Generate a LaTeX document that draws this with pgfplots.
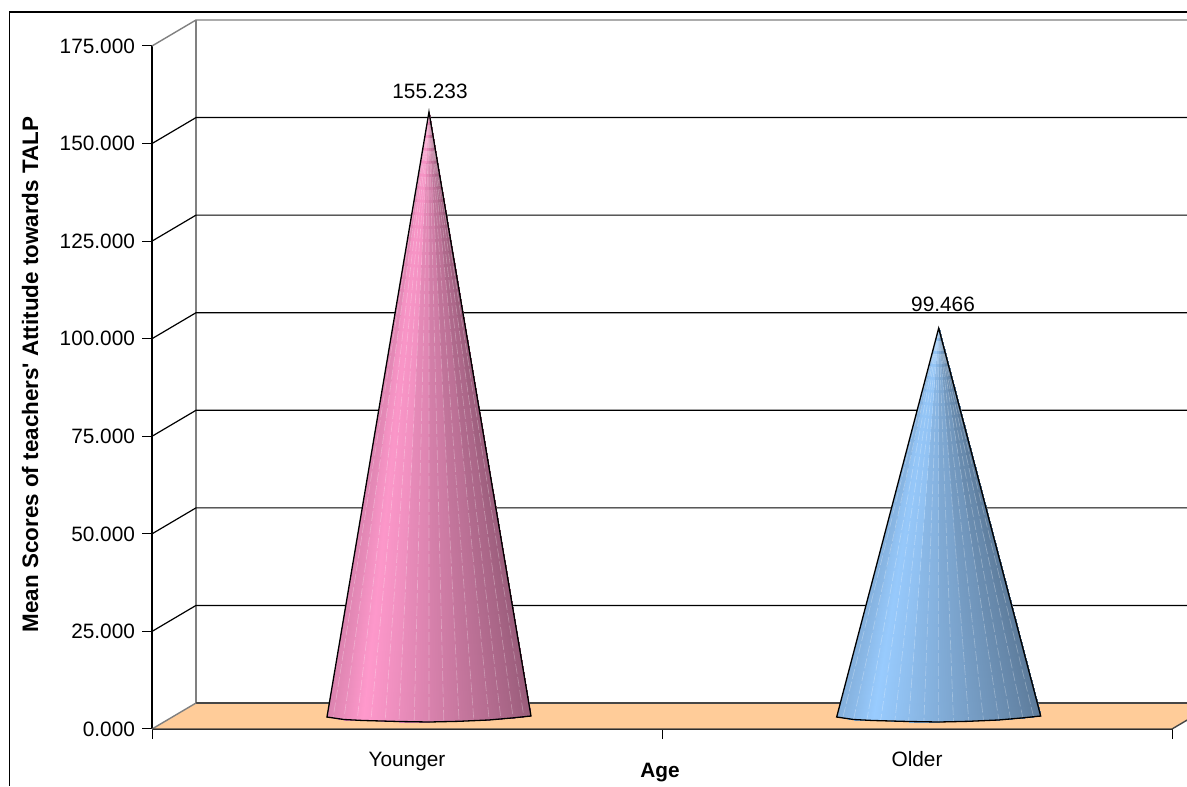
\documentclass[border=0pt]{standalone}
\usepackage{pgfplots}
\usepackage{fontspec}
\setmainfont{Liberation Sans}
\pgfplotsset{compat=1.18}
\definecolor{floorc}{RGB}{255,204,153}
\definecolor{wallc}{RGB}{128,128,128}
\definecolor{edgec}{RGB}{70,70,70}
\pgfplotsset{
  colormap={pinkcone}{rgb255(0)=(153,92,122) rgb255(1)=(255,153,204)},
  colormap={bluecone}{rgb255(0)=(92,122,153) rgb255(1)=(153,204,255)},
  streak/.style={white, line width=0.3pt, opacity=0.3, dash pattern=on 5pt off 1.5pt},
}
\begin{document}
\begin{tikzpicture}[font=\fontsize{10.4pt}{12pt}\selectfont]
% picture is 1187x786 px at 0.5pt per px, axis box starts at px (152,729)
\path[use as bounding box] (-76pt,-28.5pt) rectangle (517.5pt,364.5pt);
\clip (-76pt,-28.5pt) rectangle (517.5pt,364.5pt);
\begin{axis}[
  at={(0pt,0pt)}, anchor=south west,
  scale only axis, width=510pt, height=341.5pt,
  xmin=-0.5, xmax=1.5, ymin=0, ymax=175,
  clip=false,
  axis x line*=bottom, axis y line*=left,
  axis line style={-, black, line width=0.6pt},
  tick align=outside, major tick length=5pt,
  tick style={black, line width=0.5pt},
  xtick={-0.5,0.5,1.5}, xticklabels={,,},
  extra x ticks={0,1}, extra x tick labels={Younger,Older},
  extra x tick style={tick style={draw=none}, tick label style={anchor=base, yshift=-13.5pt}},
  ytick={0,25,50,75,100,125,150,175},
  yticklabel style={/pgf/number format/fixed, /pgf/number format/zerofill,
    /pgf/number format/precision=3, /pgf/number format/assume math mode=true},
  xlabel={\textbf{Age}}, ylabel={\textbf{Mean Scores of teachers\textquotesingle\ Attitude towards TALP}},
  every axis x label/.style={at={(rel axis cs:0.5,0)}, anchor=center, yshift=-22pt, xshift=-1pt},
  every axis y label/.style={at={(rel axis cs:0,0.5)}, rotate=90, anchor=center, yshift=61pt, xshift=6.5pt,
    font=\fontsize{11.2pt}{13pt}\selectfont},
  point meta min=0.6, point meta max=1,
]
% outer chart frame
\addplot[black, line width=0.6pt, forget plot] coordinates {(-0.7794,-14.6) (-0.7794,183.7) (1.53,183.7)};
% back wall
\addplot[wallc, line width=0.7pt] coordinates {(-0.4137,6.66) (-0.4137,181.66)};
\addplot[wallc, line width=0.7pt] coordinates {(-0.5,175) (-0.4137,181.66) (1.5863,181.66)};
\addplot[black, line width=0.6pt] coordinates {(-0.5,150) (-0.4137,156.66) (1.5863,156.66)};
\addplot[black, line width=0.6pt] coordinates {(-0.5,125) (-0.4137,131.66) (1.5863,131.66)};
\addplot[black, line width=0.6pt] coordinates {(-0.5,100) (-0.4137,106.66) (1.5863,106.66)};
\addplot[black, line width=0.6pt] coordinates {(-0.5,75) (-0.4137,81.66) (1.5863,81.66)};
\addplot[black, line width=0.6pt] coordinates {(-0.5,50) (-0.4137,56.66) (1.5863,56.66)};
\addplot[black, line width=0.6pt] coordinates {(-0.5,25) (-0.4137,31.66) (1.5863,31.66)};
% floor
\addplot[fill=floorc, draw=none] coordinates {(-0.5,0) (1.5,0) (1.5863,6.66) (-0.4137,6.66)} -- cycle;
\addplot[edgec, line width=0.7pt] coordinates {(-0.4137,6.66) (1.5863,6.66)};
\addplot[wallc, line width=0.7pt] coordinates {(-0.5,0) (-0.4137,6.66)};
\addplot[edgec, line width=0.7pt] coordinates {(-0.5,0) (1.5,0) (1.5863,6.66)};
% younger cone
\addplot[patch, patch type=triangle, shader=interp, colormap name=pinkcone, point meta=\thisrow{c}] table {
x y c
0.0431 158.1 0.89
-0.1569 3.07 0.86
-0.1236 2.43 0.92
0.0431 158.1 0.96
-0.1236 2.43 0.92
-0.0863 2.18 1.00
0.0431 158.1 0.96
-0.0863 2.18 1.00
-0.0157 1.92 0.92
0.0431 158.1 0.885
-0.0157 1.92 0.92
0.0431 1.79 0.85
0.0431 158.1 0.815
0.0431 1.79 0.85
0.1019 1.97 0.78
0.0431 158.1 0.745
0.1019 1.97 0.78
0.1607 2.31 0.71
0.0431 158.1 0.68
0.1607 2.31 0.71
0.2098 2.87 0.65
0.0431 158.1 0.625
0.2098 2.87 0.65
0.2431 3.33 0.60
};
\addplot[streak] table {
x y
0.0431 158.1
-0.1449 2.9

0.0431 158.1
-0.1239 2.4

0.0431 158.1
-0.0979 2.2

0.0431 158.1
-0.0709 2.0

0.0431 158.1
-0.0429 2.0

0.0431 158.1
-0.0159 1.9

0.0431 158.1
0.0141 1.8

0.0431 158.1
0.0431 1.8

0.0431 158.1
0.0721 1.9

0.0431 158.1
0.1021 2.0

0.0431 158.1
0.1311 2.1

0.0431 158.1
0.1611 2.3

0.0431 158.1
0.1841 2.6

0.0431 158.1
0.2081 2.9

0.0431 158.1
0.2291 3.2
};
\addplot[black, line width=0.65pt] coordinates {(0.0431,158.1) (-0.1569,3.07) (-0.1236,2.43) (-0.0863,2.18) (-0.0157,1.92) (0.0431,1.79) (0.1019,1.97) (0.1607,2.31) (0.2098,2.87) (0.2431,3.33)} -- cycle;
% older cone
\addplot[patch, patch type=triangle, shader=interp, colormap name=bluecone, point meta=\thisrow{c}] table {
x y c
1.0425 102.7 0.89
0.8425 3.07 0.86
0.8758 2.43 0.92
1.0425 102.7 0.96
0.8758 2.43 0.92
0.9131 2.18 1.00
1.0425 102.7 0.96
0.9131 2.18 1.00
0.9837 1.92 0.92
1.0425 102.7 0.885
0.9837 1.92 0.92
1.0425 1.79 0.85
1.0425 102.7 0.815
1.0425 1.79 0.85
1.1013 1.97 0.78
1.0425 102.7 0.745
1.1013 1.97 0.78
1.1601 2.31 0.71
1.0425 102.7 0.68
1.1601 2.31 0.71
1.2092 2.87 0.65
1.0425 102.7 0.625
1.2092 2.87 0.65
1.2425 3.33 0.60
};
\addplot[streak] table {
x y
1.0425 102.7
0.8545 2.9

1.0425 102.7
0.8755 2.4

1.0425 102.7
0.9015 2.2

1.0425 102.7
0.9285 2.0

1.0425 102.7
0.9565 2.0

1.0425 102.7
0.9835 1.9

1.0425 102.7
1.0135 1.8

1.0425 102.7
1.0425 1.8

1.0425 102.7
1.0715 1.9

1.0425 102.7
1.1015 2.0

1.0425 102.7
1.1305 2.1

1.0425 102.7
1.1605 2.3

1.0425 102.7
1.1835 2.6

1.0425 102.7
1.2075 2.9

1.0425 102.7
1.2285 3.2
};
\addplot[black, line width=0.65pt] coordinates {(1.0425,102.7) (0.8425,3.07) (0.8758,2.43) (0.9131,2.18) (0.9837,1.92) (1.0425,1.79) (1.1013,1.97) (1.1601,2.31) (1.2092,2.87) (1.2425,3.33)} -- cycle;
% value labels
\addplot[draw=none, mark=none, nodes near coords={155.233},
  every node near coord/.style={anchor=center, yshift=16pt, font=\fontsize{10.4pt}{12pt}\selectfont}] coordinates {(0.0451,155.233)};
\addplot[draw=none, mark=none, nodes near coords={99.466},
  every node near coord/.style={anchor=center, yshift=18pt, font=\fontsize{10.4pt}{12pt}\selectfont}] coordinates {(1.0510,99.466)};
\end{axis}
\end{tikzpicture}
\end{document}
